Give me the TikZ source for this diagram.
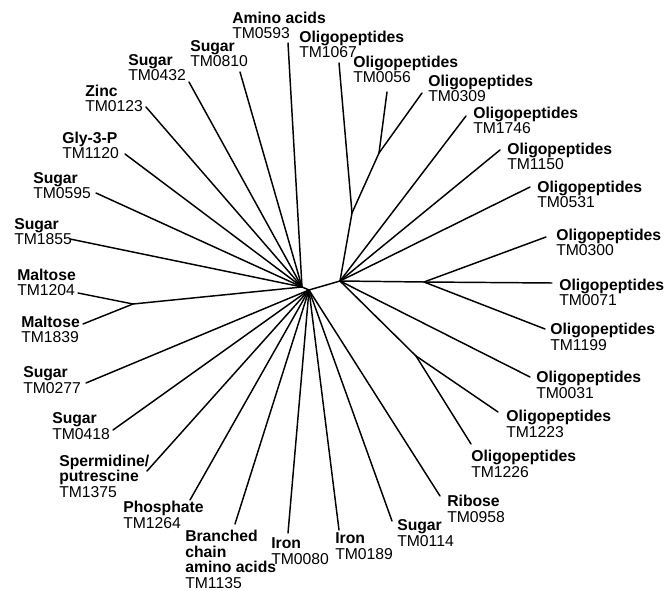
\documentclass[tikz,border=0pt]{standalone}
\usepackage{fontspec}
\setmainfont{Liberation Sans}
\usepackage{tikz}

\begin{document}
\begin{tikzpicture}[x=0.75pt, y=-0.75pt,
  lbl/.style={anchor=base west, align=left, inner sep=0pt, font=\fontsize{11.8}{11.6}\selectfont},
  branch/.style={line width=1.1pt, line cap=round, line join=round}
]
\useasboundingbox (0,0) rectangle (667,591);

% inner nodes of the tree
\coordinate (hubL) at (302,287);
\coordinate (hubB) at (309,290);
\coordinate (hubR) at (340,281);
\coordinate (malt) at (133,304);
\coordinate (oliA) at (352,213);
\coordinate (oliB) at (379,153);
\coordinate (oliC) at (424,282);
\coordinate (oliD) at (416,356);

% leaf ends
\coordinate (e0593) at (288,43);
\coordinate (e1067) at (339,63);
\coordinate (e0056) at (387,92);
\coordinate (e0309) at (422,93);
\coordinate (e1746) at (466,116);
\coordinate (e1150) at (500,150);
\coordinate (e0531) at (530,187);
\coordinate (e0300) at (546,237);
\coordinate (e0071) at (552,283);
\coordinate (e1199) at (545,329);
\coordinate (e0031) at (530,377);
\coordinate (e1223) at (498,412);
\coordinate (e1226) at (471,444);
\coordinate (e0958) at (440,496);
\coordinate (e0114) at (392,521);
\coordinate (e0189) at (339,530);
\coordinate (e0080) at (288,533);
\coordinate (e1135) at (235,524);
\coordinate (e1264) at (190,500);
\coordinate (e1375) at (147,471);
\coordinate (e0418) at (113,430);
\coordinate (e0277) at (86,383);
\coordinate (e1839) at (83,324);
\coordinate (e1204) at (78,293);
\coordinate (e1855) at (70,239);
\coordinate (e0595) at (96,193);
\coordinate (e1120) at (125,154);
\coordinate (e0123) at (146,107);
\coordinate (e0432) at (189,82);
\coordinate (e0810) at (240,72);

% labels (placed at the baseline of their last line)
\node[lbl] (t0593) at (232,39) {\textbf{Amino acids}\\TM0593};
\node[lbl] (t1067) at (299,58) {\textbf{Oligopeptides}\\TM1067};
\node[lbl] (t0056) at (353,83) {\textbf{Oligopeptides}\\TM0056};
\node[lbl] (t0309) at (428,102) {\textbf{Oligopeptides}\\TM0309};
\node[lbl] (t1746) at (473,134) {\textbf{Oligopeptides}\\TM1746};
\node[lbl] (t1150) at (507,170) {\textbf{Oligopeptides}\\TM1150};
\node[lbl] (t0531) at (537,208) {\textbf{Oligopeptides}\\TM0531};
\node[lbl] (t0300) at (556,256) {\textbf{Oligopeptides}\\TM0300};
\node[lbl] (t0071) at (559,306) {\textbf{Oligopeptides}\\TM0071};
\node[lbl] (t1199) at (550,350) {\textbf{Oligopeptides}\\TM1199};
\node[lbl] (t0031) at (536,398) {\textbf{Oligopeptides}\\TM0031};
\node[lbl] (t1223) at (506,437) {\textbf{Oligopeptides}\\TM1223};
\node[lbl] (t1226) at (471,477) {\textbf{Oligopeptides}\\TM1226};
\node[lbl] (t0958) at (447,522) {\textbf{Ribose}\\TM0958};
\node[lbl] (t0114) at (397,546) {\textbf{Sugar}\\TM0114};
\node[lbl] (t0189) at (335,559) {\textbf{Iron}\\TM0189};
\node[lbl] (t0080) at (271,564) {\textbf{Iron}\\TM0080};
\node[lbl] (t1135) at (185,588) {\textbf{Branched}\\\textbf{chain}\\\textbf{amino acids}\\TM1135};
\node[lbl] (t1264) at (123,528) {\textbf{Phosphate}\\TM1264};
\node[lbl] (t1375) at (59,497) {\textbf{Spermidine/}\\\textbf{putrescine}\\TM1375};
\node[lbl] (t0418) at (52,439) {\textbf{Sugar}\\TM0418};
\node[lbl] (t0277) at (23,393) {\textbf{Sugar}\\TM0277};
\node[lbl] (t1839) at (21,343) {\textbf{Maltose}\\TM1839};
\node[lbl] (t1204) at (17,296) {\textbf{Maltose}\\TM1204};
\node[lbl] (t1855) at (14,245) {\textbf{Sugar}\\TM1855};
\node[lbl] (t0595) at (33,199) {\textbf{Sugar}\\TM0595};
\node[lbl] (t1120) at (62,159) {\textbf{Gly-3-P}\\TM1120};
\node[lbl] (t0123) at (85,112) {\textbf{Zinc}\\TM0123};
\node[lbl] (t0432) at (128,81) {\textbf{Sugar}\\TM0432};
\node[lbl] (t0810) at (190,67) {\textbf{Sugar}\\TM0810};

% backbone
\draw[branch] (hubL) -- (hubB);
\draw[branch] (hubB) -- (hubR);
\draw[branch] (hubR) -- (oliA);
\draw[branch] (oliA) -- (oliB);
\draw[branch] (hubR) -- (oliC);
\draw[branch] (hubR) -- (oliD);
\draw[branch] (hubL) -- (malt);

% upper left
\draw[branch] (hubL) -- (e0593);
\draw[branch] (hubL) -- (e0810);
\draw[branch] (hubL) -- (e0432);
\draw[branch] (hubL) -- (e0123);
\draw[branch] (hubL) -- (e1120);
\draw[branch] (hubL) -- (e0595);
\draw[branch] (hubL) -- (e1855);
\draw[branch] (malt) -- (e1204);
\draw[branch] (malt) -- (e1839);

% lower left
\draw[branch] (hubB) -- (e0277);
\draw[branch] (hubB) -- (e0418);
\draw[branch] (hubB) -- (e1375);
\draw[branch] (hubB) -- (e1264);
\draw[branch] (hubB) -- (e1135);
\draw[branch] (hubB) -- (e0080);
\draw[branch] (hubB) -- (e0189);
\draw[branch] (hubB) -- (e0114);
\draw[branch] (hubB) -- (e0958);

% oligopeptides
\draw[branch] (oliA) -- (e1067);
\draw[branch] (oliB) -- (e0056);
\draw[branch] (oliB) -- (e0309);
\draw[branch] (hubR) -- (e1746);
\draw[branch] (hubR) -- (e1150);
\draw[branch] (hubR) -- (e0531);
\draw[branch] (oliC) -- (e0300);
\draw[branch] (oliC) -- (e0071);
\draw[branch] (oliC) -- (e1199);
\draw[branch] (hubR) -- (e0031);
\draw[branch] (oliD) -- (e1223);
\draw[branch] (oliD) -- (e1226);
\end{tikzpicture}
\end{document}
